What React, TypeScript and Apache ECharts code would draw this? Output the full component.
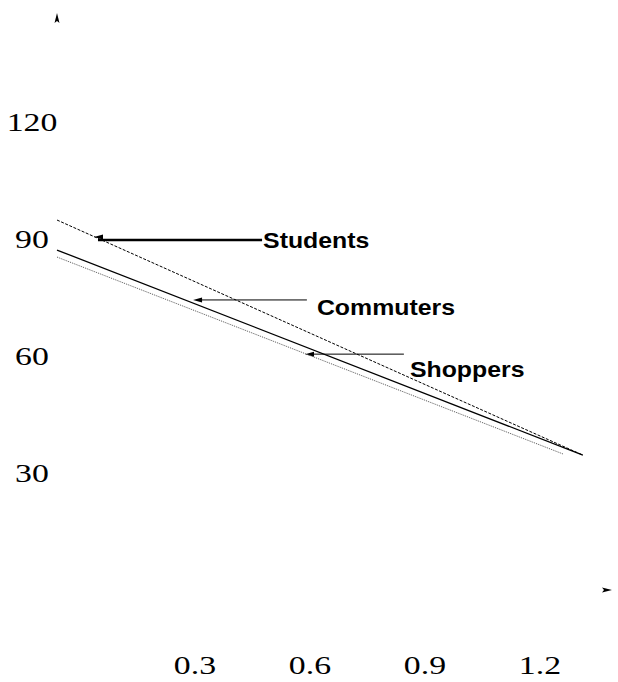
import React, { useEffect, useRef } from "react";
import * as echarts from "echarts";

// ---- data ----
const xTickValues = [0.3, 0.6, 0.9, 1.2];
const xTickLabels = ["0.3", "0.6", "0.9", "1.2"];
const yTickValues = [30, 60, 90, 120];
const yTickLabels = ["30", "60", "90", "120"];

const seriesNames = ["Students", "Commuters", "Shoppers"];
const studentsLine = [
  [-0.06, 94.9],
  [1.312, 34.6],
];
const commutersLine = [
  [-0.06, 87.2],
  [1.312, 34.6],
];
const shoppersLine = [
  [-0.06, 85.4],
  [1.26, 34.9],
];

// annotation arrows (data coordinates): tip on the line, tail at label
const arrowTipX = [0.0365, 0.295, 0.587];
const arrowTailX = [0.475, 0.592, 0.845];
const arrowY = [89.8, 74.4, 60.5];

const X_MIN = -0.06;
const X_MAX = 1.388;
const Y_MIN = 0;
const Y_MAX = 148;

export default function App() {
  const ref = useRef<HTMLDivElement>(null);

  useEffect(() => {
    if (!ref.current) return;
    const chart = echarts.init(ref.current, null, { renderer: "svg" });
    const hiddenAxis = {
      axisLine: { show: false },
      axisTick: { show: false },
      axisLabel: { show: false },
      splitLine: { show: false },
    };
    chart.setOption({
      animation: false,
      backgroundColor: "#ffffff",
      grid: { left: 57, right: 6, top: 13, bottom: 92 },
      xAxis: { type: "value", min: X_MIN, max: X_MAX, ...hiddenAxis },
      yAxis: { type: "value", min: Y_MIN, max: Y_MAX, ...hiddenAxis },
      series: [
        {
          name: seriesNames[0],
          type: "line",
          data: studentsLine,
          symbol: "none",
          lineStyle: { color: "#000000", width: 1, type: [3, 1.5] },
        },
        {
          name: seriesNames[1],
          type: "line",
          data: commutersLine,
          symbol: "none",
          lineStyle: { color: "#000000", width: 1.3, type: "solid" },
        },
        {
          name: seriesNames[2],
          type: "line",
          data: shoppersLine,
          symbol: "none",
          lineStyle: { color: "#555555", width: 1, type: [1, 1] },
        },
      ],
    });

    const px = (x: number, y: number) =>
      chart.convertToPixel({ gridIndex: 0 }, [x, y]) as number[];

    const graphics: any[] = [];
    const serif = "'Liberation Serif', 'Times New Roman', serif";
    const sans = "'Liberation Sans', Arial, sans-serif";

    const tickText = (text: string, x: number, y: number) => ({
      type: "text",
      x,
      y,
      scaleX: 1.3,
      style: {
        text,
        fontSize: 26,
        fontFamily: serif,
        fill: "#000",
        align: "center",
        verticalAlign: "middle",
        textAlign: "center",
        textVerticalAlign: "middle",
      },
    });

    // y tick labels
    yTickValues.forEach((v, i) => {
      const p = px(0, v);
      graphics.push(tickText(yTickLabels[i], 32, p[1]));
    });
    // x tick labels
    xTickValues.forEach((v, i) => {
      const p = px(v, 0);
      graphics.push(tickText(xTickLabels[i], p[0], 665));
    });

    // axis arrowheads (axis lines themselves are not drawn)
    const yTop = px(X_MIN, Y_MAX);
    const xEnd = px(X_MAX, Y_MIN);
    graphics.push({
      type: "polygon",
      shape: {
        points: [
          [yTop[0], yTop[1]],
          [yTop[0] - 2.5, yTop[1] + 10],
          [yTop[0], yTop[1] + 8],
          [yTop[0] + 2.5, yTop[1] + 10],
        ],
      },
      style: { fill: "#000" },
    });
    graphics.push({
      type: "polygon",
      shape: {
        points: [
          [xEnd[0], xEnd[1]],
          [xEnd[0] - 10, xEnd[1] - 2.5],
          [xEnd[0] - 8, xEnd[1]],
          [xEnd[0] - 10, xEnd[1] + 2.5],
        ],
      },
      style: { fill: "#000" },
    });

    // annotations
    const labelDx = [1, 10, 6];
    const labelDy = [1, 8, 15];
    const lineW = [2.5, 1, 1];
    const headDy = [-3, 0, 0];
    seriesNames.forEach((name, i) => {
      const tip = px(arrowTipX[i], arrowY[i]);
      const tail = px(arrowTailX[i], arrowY[i]);
      const hy = tip[1] + headDy[i];
      graphics.push({
        type: "line",
        shape: { x1: tip[0] + 4, y1: tip[1], x2: tail[0], y2: tail[1] },
        style: { stroke: "#000", lineWidth: lineW[i] },
      });
      graphics.push({
        type: "polygon",
        shape: {
          points: [
            [tip[0], hy],
            [tip[0] + 9, hy - 2.5],
            [tip[0] + 9, hy + 2.5],
          ],
        },
        style: { fill: "#000" },
      });
      graphics.push({
        type: "text",
        x: tail[0] + labelDx[i],
        y: tail[1] + labelDy[i],
        scaleX: 1.13,
        style: {
          text: name,
          fontSize: 22,
          fontWeight: "bold",
          fontFamily: sans,
          fill: "#000",
          align: "left",
          verticalAlign: "middle",
          textAlign: "left",
          textVerticalAlign: "middle",
        },
      });
    });

    chart.setOption({ graphic: graphics });

    return () => {
      chart.dispose();
    };
  }, []);

  return (
    <div
      ref={ref}
      style={{ position: "absolute", left: 0, top: 0, width: 618, height: 682 }}
    />
  );
}
